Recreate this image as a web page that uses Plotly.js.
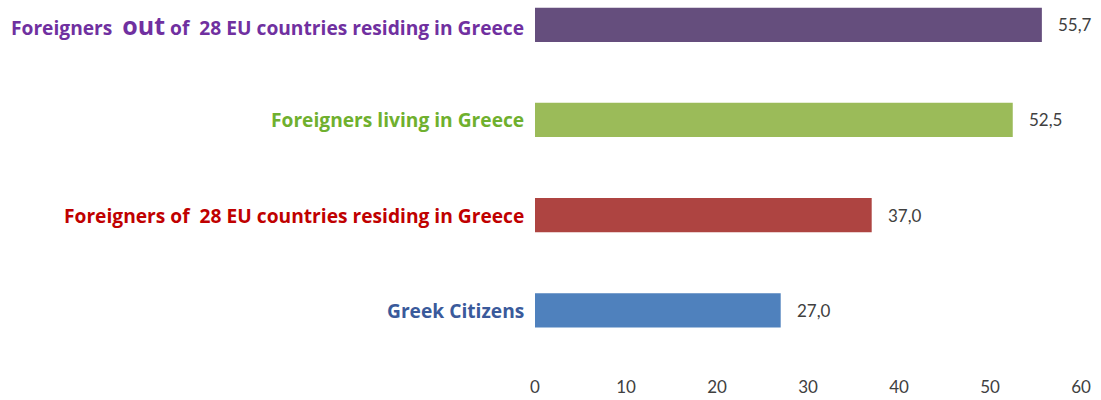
<!DOCTYPE html>
<html>
<head>
<meta charset="utf-8">
<script src="https://cdn.plot.ly/plotly-3.0.1.min.js"></script>
<style>html,body{margin:0;padding:0;background:#fff;}#chart{width:1101px;height:400px;}</style>
</head>
<body>
<div id="chart"></div>
<script>
// Data (bottom to top)
const categories = [
  "Greek Citizens",
  "Foreigners of  28 EU countries residing in Greece",
  "Foreigners living in Greece",
  "Foreigners  out of  28 EU countries residing in Greece"
];
const labelHtml = [
  "Greek Citizens",
  "Foreigners of  28 EU countries residing in Greece",
  "Foreigners living in Greece",
  "Foreigners  <span style=\"font-size:25px\">out</span> of  28 EU countries residing in Greece"
];
const values = [27.0, 37.0, 52.5, 55.7];
const barColors = ["#4f81bd", "#ae4441", "#9bbb59", "#654e7d"];
const labelColors = ["#3a5a9b", "#c00000", "#6fb02e", "#7030a0"];
const xTicks = [0, 10, 20, 30, 40, 50, 60];

const FONT = "Lato, 'Open Sans', sans-serif";
const LABEL_FONT = "'Open Sans', sans-serif";
const yIdx = categories.map((_, i) => i);

const trace = {
  type: "bar",
  orientation: "h",
  x: values,
  y: yIdx,
  width: 0.36,
  marker: { color: barColors },
  hoverinfo: "skip"
};

const annotations = [];
categories.forEach((c, i) => {
  annotations.push({
    xref: "paper", yref: "y", x: 0, y: i,
    xanchor: "right", yanchor: "middle", xshift: -9,
    text: "<b>" + labelHtml[i] + "</b>",
    showarrow: false,
    font: { family: LABEL_FONT, size: 19.2, color: labelColors[i] }
  });
  annotations.push({
    xref: "x", yref: "y", x: values[i], y: i,
    xanchor: "left", yanchor: "middle", xshift: 14,
    text: values[i].toFixed(1).replace(".", ","),
    showarrow: false,
    font: { family: FONT, size: 17, color: "#404040" }
  });
});

const layout = {
  width: 1101, height: 400,
  margin: { l: 535, r: 20, t: 1, b: 25, pad: 0 },
  paper_bgcolor: "#ffffff", plot_bgcolor: "#ffffff",
  showlegend: false,
  xaxis: {
    range: [0, 60], tickvals: xTicks, ticktext: xTicks.map(String),
    showgrid: false, zeroline: false, showline: false, ticks: "",
    tickfont: { family: FONT, size: 17, color: "#404040" },
    fixedrange: true
  },
  yaxis: {
    range: [-0.68, 3.25], showticklabels: false, showgrid: false,
    zeroline: false, showline: false, ticks: "", fixedrange: true
  },
  annotations: annotations
};

Plotly.newPlot("chart", [trace], layout, { displayModeBar: false, staticPlot: true });
</script>
</body>
</html>
